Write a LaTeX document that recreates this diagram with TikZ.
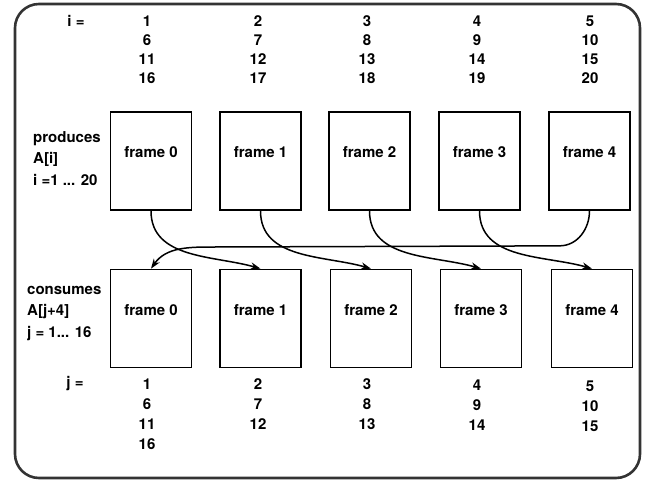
\documentclass[tikz,border=0pt]{standalone}
\usepackage{fontspec}
\setmainfont{TeX Gyre Heros}
\usetikzlibrary{arrows.meta}

\tikzset{
  frm/.style={draw, line width=1.7pt, minimum width=81pt, minimum height=98pt,
    text height=10pt, text depth=16pt, inner sep=0pt},
  flow/.style={line width=1.5pt, -{Stealth[length=10pt,width=7pt]}},
  col/.style={anchor=north, align=center, inner sep=0pt},
  tag/.style={anchor=north west, align=left, inner sep=0pt,
    font=\bfseries\fontsize{15}{21.5}\selectfont},
}

\begin{document}
\begin{tikzpicture}[x=1pt, y=1pt, font=\bfseries\fontsize{15}{19}\selectfont]
  \useasboundingbox (0,0) rectangle (647,-486);
  \draw[black!80, line width=2.6pt, rounded corners=24pt] (15,-4) rectangle (640,-478);

  % producer frames and consumer frames
  \foreach \k/\x in {0/151,1/260.5,2/369.5,3/479.5,4/589.5}
    \node[frm] (p\k) at (\x,-161) {frame \k};
  \foreach \k/\x in {0/151,1/260.5,2/371,3/481,4/592}
    \node[frm] (c\k) at (\x,-318.5) {frame \k};

  % index columns
  \node (ilbl) at (76,-21) {i =};
  \node[col] (i1) at (147,-15.5) {1\\6\\11\\16};
  \node[col] (i2) at (258,-15.5) {2\\7\\12\\17};
  \node[col] (i3) at (367,-15.5) {3\\8\\13\\18};
  \node[col] (i4) at (477,-15.5) {4\\9\\14\\19};
  \node[col] (i5) at (590,-15.5) {5\\10\\15\\20};

  \node (jlbl) at (75,-384) {j =};
  \node[col, font=\bfseries\fontsize{15}{20}\selectfont] (j1) at (147,-378.5) {1\\6\\11\\16};
  \node[col, font=\bfseries\fontsize{15}{20}\selectfont] (j2) at (258,-378) {2\\7\\12};
  \node[col, font=\bfseries\fontsize{15}{20}\selectfont] (j3) at (367,-378) {3\\8\\13};
  \node[col, font=\bfseries\fontsize{15}{20}\selectfont] (j4) at (477,-380) {4\\9\\14};
  \node[col, font=\bfseries\fontsize{15}{20}\selectfont] (j5) at (590,-381) {5\\10\\15};

  \node[tag] (prod) at (33,-131) {produces\\A[i]\\i =1 ... 20};
  \node[tag] (cons) at (27,-286) {consumes\\A[j+4]\\j = 1... 16};

  % data handed on to the next frame
  \foreach \k [count=\n] in {0,...,3}
    \draw[flow] (p\k.south) to[out=-90, in=164] (c\n.north);
  \draw[flow] (p4.south) to[out=-90, in=0] ++(-30,-35) -- (215,-247)
    to[out=180, in=55] (c0.north);
\end{tikzpicture}
\end{document}
